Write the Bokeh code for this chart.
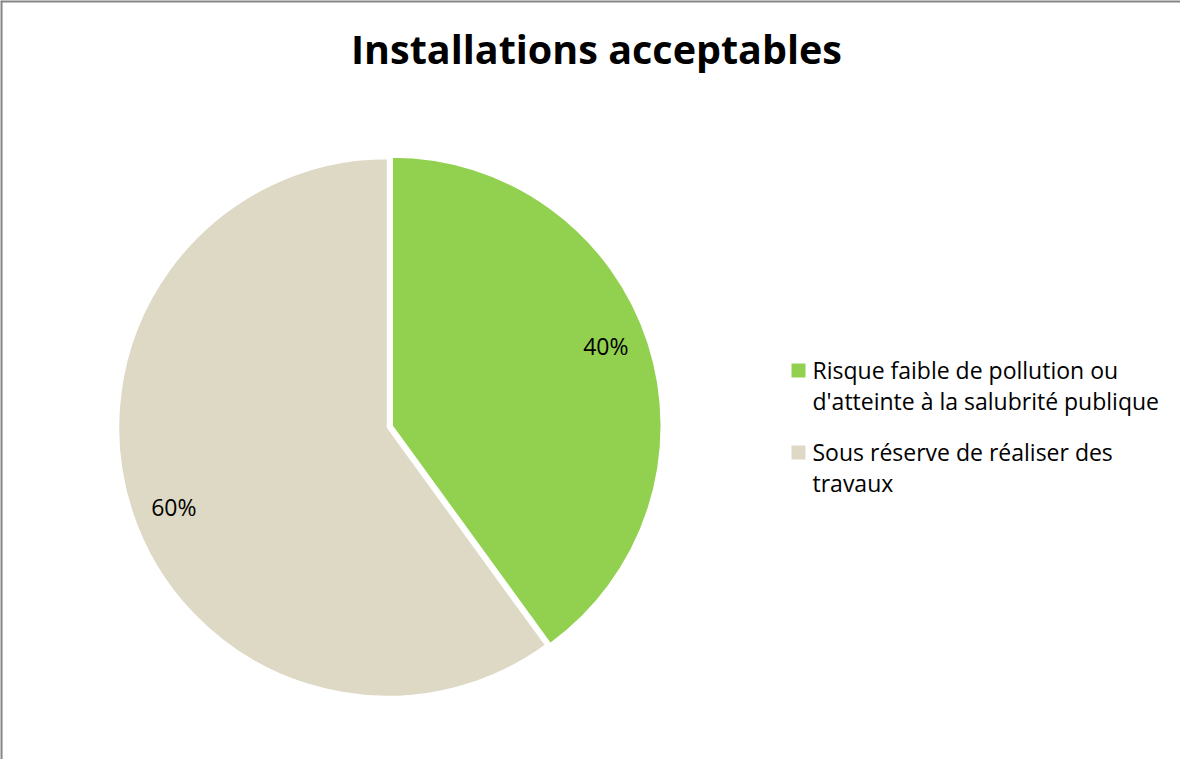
import math
from bokeh.plotting import figure
from bokeh.models import Range1d
from bokeh.core.properties import value
from bokeh.embed import file_html
from bokeh.resources import INLINE

# ---- data ----
title_text = "Installations acceptables"
categories = ["Risque faible de pollution ou\nd'atteinte à la salubrité publique",
              "Sous réserve de réaliser des\ntravaux"]
values = [40, 60]
colors = ["#92D050", "#DDD9C4"]

W, H = 1180, 759
def px(X):  # reference page pixel x -> data x
    return X - 8
def py(Y):  # reference page pixel y -> data y
    return H + 8 - Y

p = figure(width=W, height=H, output_backend="svg", toolbar_location=None,
           x_range=Range1d(0, W), y_range=Range1d(0, H), min_border=0,
           outline_line_color=None, background_fill_color="white",
           border_fill_color="white")
p.xaxis.visible = False
p.yaxis.visible = False
p.grid.visible = False

# frame (only top and left edges are visible in the crop)
p.segment(x0=[0.8, 0], y0=[0, H - 0.8], x1=[0.8, W], y1=[H, H - 0.8],
          line_color="#868686", line_width=2.5)

# pie
cx, cy, R = px(395), py(435), 269
explode = [5, 0]
total = sum(values)
start = 90.0  # degrees, 12 o'clock, going clockwise
font = "Open Sans"
for i, v in enumerate(values):
    sweep = 360.0 * v / total
    end = start - sweep
    mid = math.radians((start + end) / 2)
    ox = cx + explode[i] * math.cos(mid)
    oy = cy + explode[i] * math.sin(mid)
    p.wedge(x=ox, y=oy, radius=R, start_angle=math.radians(end),
            end_angle=math.radians(start), direction="anticlock",
            fill_color=colors[i], line_color="white", line_width=1.5)
    p.text(x=[ox + 0.835 * R * math.cos(mid)], y=[oy + 0.96 * R * math.sin(mid)],
           text=[f"{v}%"], text_align="center", text_baseline="middle",
           text_font=value(font), text_font_size="23px", text_color="#000000")
    start = end

# title
p.text(x=[px(604)], y=[py(56)], text=[title_text], text_align="center",
       text_baseline="alphabetic", text_font=value(font), text_font_style="bold",
       text_font_size="39.5px", text_color="#000000")

# legend
item_top = [371, 453]
for i, cat in enumerate(categories):
    top = item_top[i]
    p.rect(x=[px(806)], y=[py(top + 7)], width=14, height=14,
           fill_color=colors[i], line_color=None)
    for j, line in enumerate(cat.split("\n")):
        p.text(x=[px(820)], y=[py(top + 6 + 31 * j)], text=[line],
               text_align="left", text_baseline="alphabetic",
               text_font=value(font), text_font_size="23px",
               text_color="#000000")

open("out.html", "w").write(file_html(p, INLINE))
